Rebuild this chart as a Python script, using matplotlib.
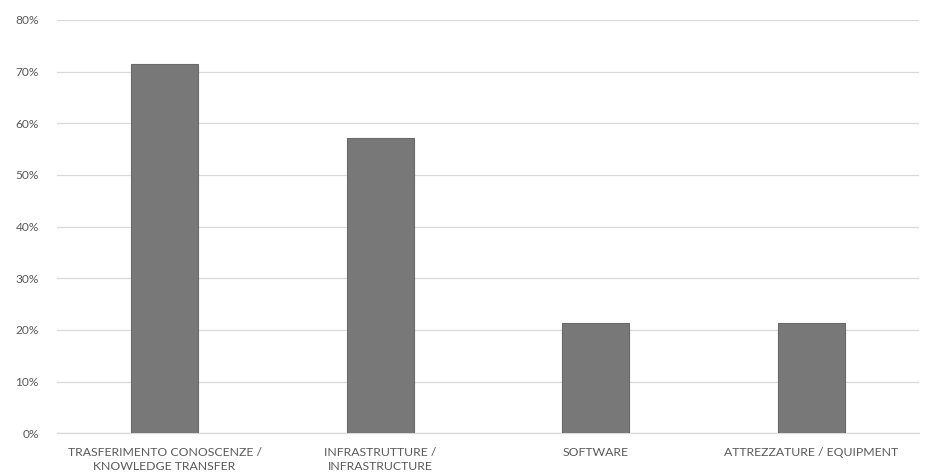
import matplotlib
matplotlib.use("Agg")
import matplotlib.pyplot as plt
from matplotlib.ticker import PercentFormatter

categories = [
    "TRASFERIMENTO CONOSCENZE /\nKNOWLEDGE TRANSFER",
    "INFRASTRUTTURE /\nINFRASTRUCTURE",
    "SOFTWARE",
    "ATTREZZATURE / EQUIPMENT",
]
shares = [71.4, 57.1, 21.4, 21.4]  # percent of respondents
y_ticks = [0, 10, 20, 30, 40, 50, 60, 70, 80]

plt.rcParams["font.family"] = ["Lato", "DejaVu Sans"]

fig = plt.figure(figsize=(9.32, 4.75), dpi=100)
ax = fig.add_axes([0.061, 0.088, 0.925, 0.870])

x = range(len(categories))
ax.bar(x, shares, width=0.31, color="#787878", edgecolor="#6a6a6a",
       linewidth=0.8, zorder=3)

ax.set_xlim(-0.5, len(categories) - 0.5)
ax.set_ylim(0, 80)
ax.set_yticks(y_ticks)
ax.yaxis.set_major_formatter(PercentFormatter(decimals=0))
ax.set_xticks(list(x))
ax.set_xticklabels(categories, fontsize=8.8, color="#595959", linespacing=1.3)
ax.tick_params(axis="y", labelsize=8.6, labelcolor="#595959", length=0, pad=13)
ax.tick_params(axis="x", length=0, pad=10)

ax.grid(axis="y", color="#d9d9d9", linewidth=0.9, zorder=0)
for side in ["top", "right", "left"]:
    ax.spines[side].set_visible(False)
ax.spines["bottom"].set_color("#d9d9d9")
ax.spines["bottom"].set_linewidth(0.9)

fig.savefig("out.png", dpi=100, facecolor="white")
